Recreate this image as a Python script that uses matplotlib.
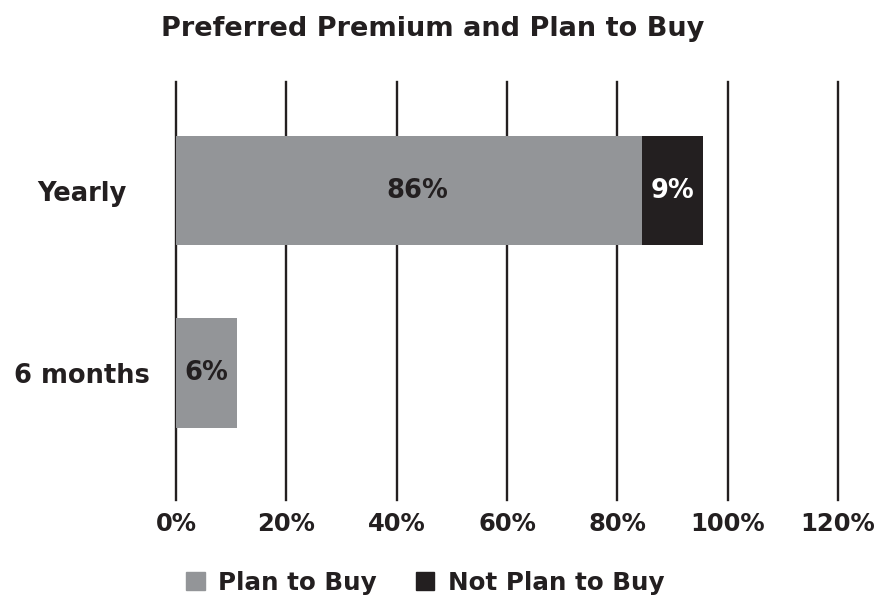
import matplotlib
matplotlib.use("Agg")
import matplotlib.pyplot as plt
from matplotlib.patches import Patch

plt.rcParams['font.family'] = ['DejaVu Sans']
plt.rcParams['font.weight'] = 'bold'

categories = ["Yearly", "6 months"]
plan_to_buy = [84.4, 11.1]
not_plan_to_buy = [11.1, 0.0]
plan_labels = ["86%", "6%"]
not_plan_labels = ["9%", ""]
xticks = [0, 20, 40, 60, 80, 100, 120]
xtick_labels = ["0%", "20%", "40%", "60%", "80%", "100%", "120%"]

GRAY = "#939598"
DARK = "#231f20"

fig = plt.figure(figsize=(8.75, 5.99), dpi=100)
ax = fig.add_axes([0.2011, 0.1653, 0.7566, 0.6978])

y = list(range(len(categories)))
ax.barh(y, plan_to_buy, height=0.6, color=GRAY, zorder=3)
ax.barh(y, not_plan_to_buy, left=plan_to_buy, height=0.6, color=DARK, zorder=3)

for i in y:
    if plan_labels[i]:
        xc = plan_to_buy[i] / 2 + (1.5 if plan_to_buy[i] > 30 else 0)
        ax.text(xc, i, plan_labels[i], ha="center", va="center",
                color=DARK, fontsize=18.5, fontweight="bold", zorder=4)
    if not_plan_labels[i]:
        ax.text(plan_to_buy[i] + not_plan_to_buy[i] / 2, i, not_plan_labels[i],
                ha="center", va="center", color="white", fontsize=18.5,
                fontweight="bold", zorder=4)

ax.set_xlim(0, 120)
ax.set_ylim(1.696, -0.595)
ax.set_xticks(xticks)
ax.set_xticklabels(xtick_labels)
ax.set_yticks(y)
ax.set_yticklabels(categories, ha="center")
for v in xticks:
    ax.axvline(v, color=DARK, lw=1.7, zorder=2, clip_on=False)
for s in ax.spines.values():
    s.set_visible(False)
ax.tick_params(axis="x", length=0, pad=9, labelsize=17.5, colors=DARK)
ax.tick_params(axis="y", length=0, pad=68, labelsize=18.5, colors=DARK)

fig.suptitle("Preferred Premium and Plan to Buy", x=0.494, y=0.973,
             fontsize=19.5, fontweight="bold", color=DARK)

handles = [Patch(color=GRAY, label="Plan to Buy"), Patch(color=DARK, label="Not Plan to Buy")]
fig.legend(handles=handles, loc="center", bbox_to_anchor=(0.486, 0.027), ncol=2,
           frameon=False, fontsize=17.7, handlelength=0.75, handleheight=0.75,
           handletextpad=0.55, columnspacing=1.6, labelcolor=DARK)

fig.savefig("out.png", dpi=100)
